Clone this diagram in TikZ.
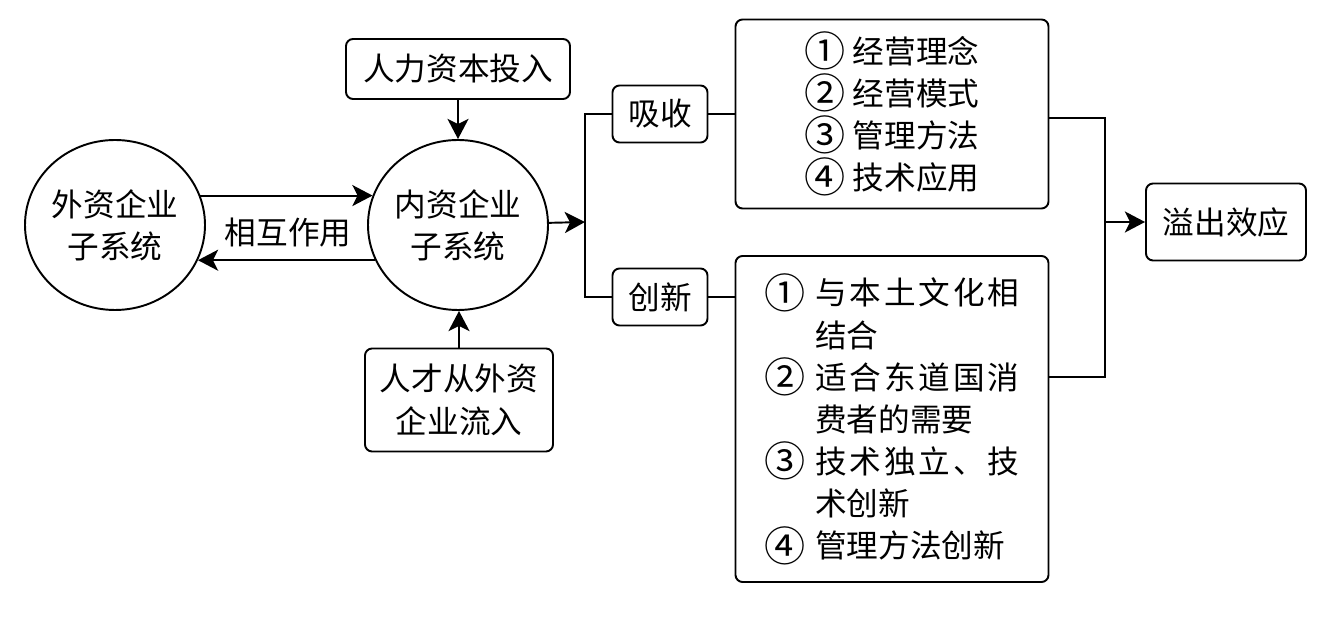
\documentclass[tikz,border=0pt]{standalone}
\usepackage{fontspec}
\usepackage{graphicx}
\setmainfont{Noto Sans CJK SC}
\usetikzlibrary{arrows.meta,shapes.geometric}
\tikzset{
  sys/.style={draw,ellipse,line width=1.1pt,minimum width=3.6cm,minimum height=3.4cm,inner sep=0pt,align=center},
  rbox/.style={draw,rounded corners=4pt,line width=1.1pt,inner sep=0pt,align=center},
  arr/.style={-{Stealth[length=11.5pt,width=12pt,inset=3pt]},line width=1.1pt}
}
\newcommand{\qn}[1]{\raisebox{-0.1em}{\scalebox{1.3}{#1}}}
\newcommand{\qh}[1]{\makebox[1.6em][l]{\qn{#1}}}
\newcommand{\qs}[1]{\makebox[6.45em][s]{#1}}
\begin{document}
\begin{tikzpicture}[every node/.style={font=\fontsize{18}{24}\selectfont}]
    \useasboundingbox (0,0) rectangle (26.78,12.38);
    \node[sys] (wz) at (2.30,7.88) {外资企业\\子系统};
    \node[sys] (nz) at (9.16,7.88) {内资企业\\子系统};
    \node[rbox,minimum width=4.48cm,minimum height=1.2cm] (rl) at (9.16,11.00) {人力资本投入};
    \node[rbox,minimum width=3.76cm,minimum height=2.06cm] (rc) at (9.18,4.38) {人才从外资\\企业流入};
    \node (xh) at (5.76,7.72) {相互作用};
    \node[rbox,minimum width=1.9cm,minimum height=1.14cm] (xs) at (13.20,10.10) {吸收};
    \node[rbox,minimum width=1.9cm,minimum height=1.14cm] (cx) at (13.20,6.44) {创新};
    \node[rbox,minimum width=6.26cm,minimum height=3.78cm] (xsn) at (17.84,10.10)
      {\qn{①} 经营理念\\\qn{②} 经营模式\\\qn{③} 管理方法\\\qn{④} 技术应用};
    \node[rbox,minimum width=6.26cm,minimum height=6.52cm,align=left] (cxn) at (17.84,4.00)
      {\qh{①}\qs{与\hfil 本\hfil 土\hfil 文\hfil 化\hfil 相}\\\qh{}结合\\
       \qh{②}\qs{适\hfil 合\hfil 东\hfil 道\hfil 国\hfil 消}\\\qh{}费者的需要\\
       \qh{③}\qs{技\hfil 术\hfil 独\hfil 立\hfil 、\hfil 技}\\\qh{}术创新\\
       \qh{④}管理方法创新};
    \node[rbox,minimum width=3.2cm,minimum height=1.54cm] (yc) at (24.52,7.94) {溢出效应};
    \coordinate (jl) at (11.70,7.94);
    \coordinate (jr) at (22.10,7.94);
    % arrows round the inner system
    \draw[arr] (wz.19) -- (nz.161);
    \draw[arr] (nz.203) -- (wz.-23);
    \draw[arr] (rl.south) -- (rl.south |- nz.north);
    \draw[arr] (rc.north) -- (rc.north |- nz.south);
    \draw[arr] (nz) -- (jl);
    % absorb / innovate branches
    \draw[line width=1.1pt] (xs.west) -| (jl) |- (cx.west);
    \draw[line width=1.1pt] (xs) -- (xsn);
    \draw[line width=1.1pt] (cx.east) -- (cx.east -| cxn.west);
    \draw[line width=1.1pt] ([yshift=-0.08cm]xsn.east) -| (jr) |- ([yshift=0.84cm]cxn.east);
    \draw[arr] (jr) -- (yc);
  \end{tikzpicture}
\end{document}
